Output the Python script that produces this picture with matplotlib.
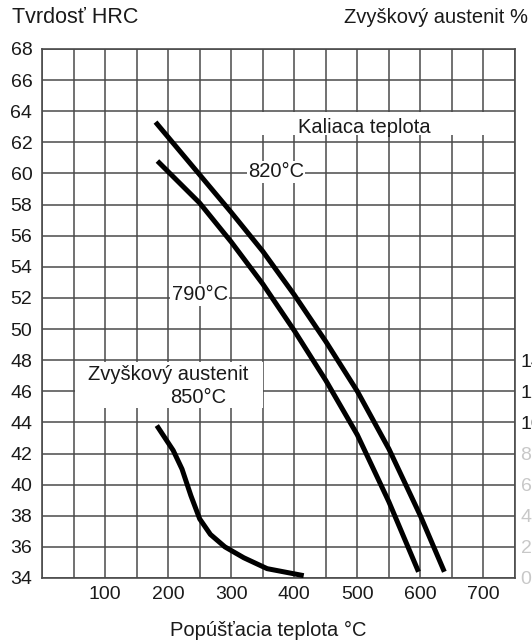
import numpy as np
import matplotlib.pyplot as plt
from matplotlib.patches import Rectangle

plt.rcParams['font.family'] = ['Liberation Sans', 'DejaVu Sans']
plt.rcParams['font.size'] = 14.5

# Tvrdosť pri kaliacej teplote 820 °C
t_820 = [180, 240, 300, 350, 400, 450, 500, 550, 600, 638]
hrc_820 = [63.3, 60.4, 57.5, 55.0, 52.2, 49.2, 46.0, 42.3, 38.0, 34.4]

# Tvrdosť pri kaliacej teplote 790 °C
t_790 = [183, 250, 300, 350, 400, 450, 500, 550, 597]
hrc_790 = [60.8, 58.1, 55.6, 52.9, 49.9, 46.7, 43.2, 38.9, 34.4]

# Zvyškový austenit, 850 °C (v %)
t_aus = [182, 208, 222, 236, 250, 267, 290, 320, 357, 415]
aus = [9.8, 8.2, 7.0, 5.3, 3.8, 2.8, 2.0, 1.3, 0.6, 0.15]

x_ticks = [100, 200, 300, 400, 500, 600, 700]
y_ticks = list(range(34, 69, 2))
aus_ticks = list(range(0, 15, 2))

fig = plt.figure(figsize=(5.32, 6.42), dpi=100)
ax = fig.add_axes([0.079, 0.0997, 0.889, 0.8240])

grid_col = '#4a4a4a'
txt_col = '#1a1a1a'
ax.set_xlim(0, 750)
ax.set_ylim(34, 68)
ax.grid(True, color=grid_col, linewidth=1.1, zorder=1)
ax.set_yticks(y_ticks)
ax.set_xticks(np.arange(0, 751, 50))
ax.set_xticklabels([str(v) if v in x_ticks else '' for v in np.arange(0, 751, 50)])
ax.tick_params(length=0, pad=6, colors=txt_col, labelsize=14)
ax.tick_params(axis='y', pad=7)
for s in ax.spines.values():
    s.set_color(grid_col)
    s.set_linewidth(1.2)
ax.set_axisbelow(True)

# sekundárna os – zvyškový austenit %
ax2 = ax.twinx()
ax2.set_ylim(0, 34)
ax2.set_yticks(aus_ticks)
ax2.set_yticklabels([str(v) for v in aus_ticks])
ax2.tick_params(length=0, pad=4, labelsize=14)
for lab, v in zip(ax2.get_yticklabels(), aus_ticks):
    lab.set_color(txt_col if v >= 10 else '#c8c8c8')
for s in ax2.spines.values():
    s.set_visible(False)

# biele pozadie pod popismi
ax.add_patch(Rectangle((301, 62.5), 448, 1.45, facecolor='white', edgecolor='none', zorder=2))
ax.add_patch(Rectangle((52, 44.95), 299, 2.95, facecolor='white', edgecolor='none', zorder=2))

ax.plot(t_820, hrc_820, color='black', linewidth=3.6, solid_capstyle='butt', zorder=4)
ax.plot(t_790, hrc_790, color='black', linewidth=3.6, solid_capstyle='butt', zorder=4)
ax2.plot(t_aus, aus, color='black', linewidth=3.6, solid_capstyle='butt', zorder=4)

box = dict(facecolor='white', edgecolor='none', pad=1)
ax.text(511, 62.95, 'Kaliaca teplota', ha='center', va='center', color=txt_col, zorder=3)
ax.text(371, 60.1, '820°C', ha='center', va='center', color=txt_col, bbox=box, zorder=3)
ax.text(250, 52.2, '790°C', ha='center', va='center', color=txt_col, bbox=box, zorder=3)
ax.text(200, 47.05, 'Zvyškový austenit', ha='center', va='center', color=txt_col, zorder=3)
ax.text(248, 45.6, '850°C', ha='center', va='center', color=txt_col, zorder=3)

fig.text(0.022, 0.972, 'Tvrdosť HRC', ha='left', va='center', color=txt_col, fontsize=15.5)
fig.text(0.992, 0.972, 'Zvyškový austenit %', ha='right', va='center', color=txt_col)
fig.text(0.505, 0.018, 'Popúšťacia teplota °C', ha='center', va='center', color=txt_col)

fig.savefig('out.png', dpi=100)
